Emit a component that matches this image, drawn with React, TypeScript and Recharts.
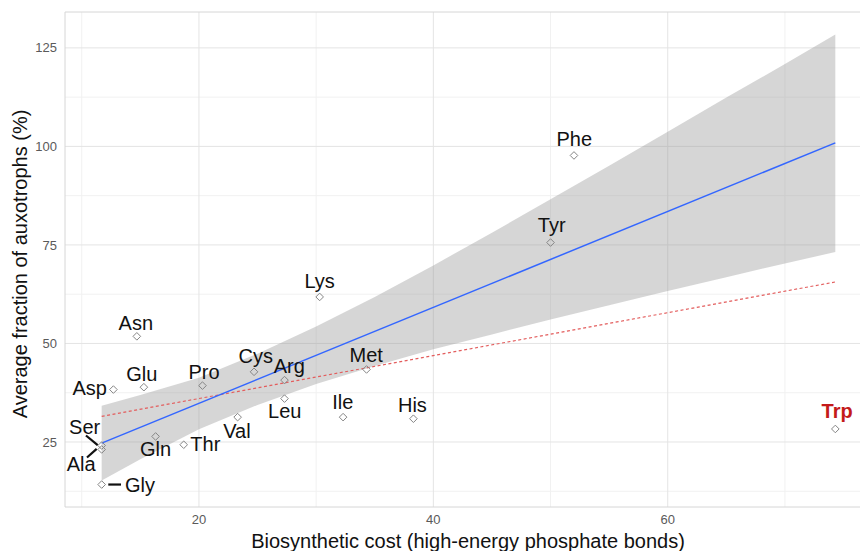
import React from "react";
import {
  ComposedChart,
  Area,
  Line,
  Scatter,
  XAxis,
  YAxis,
  CartesianGrid,
  ReferenceArea,
} from "recharts";

// amino acids: biosynthetic cost vs average fraction of auxotrophs
const aminoAcids = ["Gly", "Ala", "Ser", "Asp", "Asn", "Glu", "Gln", "Thr", "Pro", "Val", "Cys", "Arg", "Leu", "Lys", "Ile", "Met", "His", "Tyr", "Phe", "Trp"];
const cost = [11.7, 11.7, 11.7, 12.7, 14.7, 15.3, 16.3, 18.7, 20.3, 23.3, 24.7, 27.3, 27.3, 30.3, 32.3, 34.3, 38.3, 50.0, 52.0, 74.3];
const auxotrophs = [14.2, 23.1, 24.1, 38.3, 51.8, 38.9, 26.4, 24.3, 39.3, 31.3, 42.8, 40.7, 36.0, 61.8, 31.3, 43.4, 30.9, 75.6, 97.7, 28.3];

// confidence band
const bandX = [11.7, 15, 20, 25, 30, 35, 40, 45, 50, 55, 60, 65, 70, 74.3];
const bandLow = [15.2, 20.6, 28.2, 34.4, 39.7, 44.3, 48.5, 52.3, 56.1, 59.7, 63.3, 66.8, 70.3, 73.2];
const bandHigh = [34.2, 36.9, 41.3, 47.4, 54.3, 61.8, 69.8, 78.1, 86.6, 95.1, 103.7, 112.4, 120.9, 128.4];

// fitted lines (endpoints)
const fitX = [11.7, 74.3];
const fitBlue = [24.7, 100.9];
const fitRed = [31.5, 65.6];

const xMajor = [20, 40, 60];
const xMinor = [10, 30, 50, 70];
const yMajor = [25, 50, 75, 100, 125];
const yMinor = [12.5, 37.5, 62.5, 87.5, 112.5];
const xDomain = [8.57, 77.43];
const yDomain = [8.5, 134.1];

const points = aminoAcids.map((name, i) => ({ name, x: cost[i], y: auxotrophs[i] }));
const band = bandX.map((x, i) => ({ x, band: [bandLow[i], bandHigh[i]] }));
const blueRows = fitX.map((x, i) => ({ x, fit: fitBlue[i] }));
const redRows = fitX.map((x, i) => ({ x, fit: fitRed[i] }));

const FONT = "'Liberation Sans', Arial, Helvetica, sans-serif";

type LabelPos = { dx: number; dy: number; anchor: "start" | "middle" | "end"; seg?: number[] };
const labelPos: Record<string, LabelPos> = {
  Gly: { dx: 23.3, dy: 7, anchor: "start", seg: [6.6, 0, 19.3, 0] },
  Ala: { dx: -20.5, dy: 22, anchor: "middle", seg: [-14.7, 8, -5, -0.6] },
  Ser: { dx: -17, dy: -12, anchor: "middle", seg: [-15.7, -10, -4, -0.3] },
  Asp: { dx: -6.5, dy: 5, anchor: "end" },
  Asn: { dx: -1, dy: -6.7, anchor: "middle" },
  Glu: { dx: -2, dy: -6, anchor: "middle" },
  Gln: { dx: 0, dy: 20, anchor: "middle" },
  Thr: { dx: 6.6, dy: 6, anchor: "start" },
  Pro: { dx: 1.6, dy: -6.7, anchor: "middle" },
  Val: { dx: -0.7, dy: 21, anchor: "middle" },
  Cys: { dx: 1.7, dy: -9, anchor: "middle" },
  Arg: { dx: 4.7, dy: -7, anchor: "middle" },
  Leu: { dx: 0.2, dy: 19.3, anchor: "middle" },
  Lys: { dx: 0, dy: -9, anchor: "middle" },
  Ile: { dx: -0.3, dy: -8.3, anchor: "middle" },
  Met: { dx: -0.4, dy: -7.4, anchor: "middle" },
  His: { dx: -1, dy: -6.7, anchor: "middle" },
  Tyr: { dx: 1.2, dy: -11, anchor: "middle" },
  Phe: { dx: 0.3, dy: -9, anchor: "middle" },
  Trp: { dx: 1.8, dy: -11, anchor: "middle" },
};

function PointMark(props: any) {
  const { cx, cy, payload } = props;
  if (cx == null || cy == null) return null;
  const pos = labelPos[payload.name];
  const r = 3.8;
  const isTrp = payload.name === "Trp";
  return (
    <g>
      <path
        d={`M${cx},${cy - r} L${cx + r},${cy} L${cx},${cy + r} L${cx - r},${cy} Z`}
        fill="none"
        stroke="#858585"
        strokeWidth={1}
      />
      {pos.seg && (
        <line
          x1={cx + pos.seg[0]}
          y1={cy + pos.seg[1]}
          x2={cx + pos.seg[2]}
          y2={cy + pos.seg[3]}
          stroke="#111"
          strokeWidth={2.2}
        />
      )}
      <text
        x={cx + pos.dx}
        y={cy + pos.dy}
        textAnchor={pos.anchor}
        fontFamily={FONT}
        fontSize={20}
        fontWeight={isTrp ? "bold" : "normal"}
        fill={isTrp ? "#c41a1a" : "#111"}
      >
        {payload.name}
      </text>
    </g>
  );
}

export default function App() {
  return (
    <div
      style={{
        position: "absolute",
        left: 0,
        top: 0,
        width: 860,
        height: 551,
        overflow: "hidden",
        background: "#fff",
      }}
    >
      <ComposedChart width={872} height={551} data={band} margin={{ top: 12, right: 0, left: 0, bottom: 0 }}>
        <CartesianGrid verticalValues={xMinor} horizontalValues={yMinor} stroke="#f1f1f1" strokeWidth={1} />
        <CartesianGrid verticalValues={xMajor} horizontalValues={yMajor} stroke="#e4e4e4" strokeWidth={1} />
        <XAxis
          type="number"
          dataKey="x"
          domain={xDomain}
          ticks={xMajor}
          axisLine={false}
          tickLine={false}
          tickSize={0}
          tickMargin={8}
          height={44}
          allowDataOverflow
          tick={{ fill: "#5a5a5a", fontSize: 13, fontFamily: FONT }}
        />
        <YAxis
          type="number"
          domain={yDomain}
          ticks={yMajor}
          axisLine={false}
          tickLine={false}
          tickSize={0}
          tickMargin={8}
          width={65}
          allowDataOverflow
          tick={{ fill: "#5a5a5a", fontSize: 13, fontFamily: FONT }}
        />
        <Area
          type="linear"
          dataKey="band"
          stroke="none"
          fill="#999999"
          fillOpacity={0.4}
          isAnimationActive={false}
          activeDot={false}
        />
        <Line
          data={redRows}
          dataKey="fit"
          type="linear"
          stroke="#e35d5d"
          strokeWidth={1.2}
          strokeDasharray="3 2.5"
          dot={false}
          activeDot={false}
          isAnimationActive={false}
        />
        <Line
          data={blueRows}
          dataKey="fit"
          type="linear"
          stroke="#3366ff"
          strokeWidth={1.5}
          dot={false}
          activeDot={false}
          isAnimationActive={false}
        />
        <Scatter data={points} dataKey="y" shape={(p: any) => <PointMark {...p} />} isAnimationActive={false} />
        <ReferenceArea
          x1={xDomain[0]}
          x2={xDomain[1]}
          y1={yDomain[0]}
          y2={yDomain[1]}
          fill="none"
          stroke="#d6d6d6"
          strokeWidth={1}
        />
      </ComposedChart>
      <svg
        width={860}
        height={551}
        style={{ position: "absolute", left: 0, top: 0, pointerEvents: "none" }}
      >
        <text x={468} y={548} textAnchor="middle" fontFamily={FONT} fontSize={20} fill="#111">
          Biosynthetic cost (high-energy phosphate bonds)
        </text>
        <text
          transform="rotate(-90)"
          x={-264}
          y={27}
          textAnchor="middle"
          fontFamily={FONT}
          fontSize={20}
          fill="#111"
        >
          Average fraction of auxotrophs (%)
        </text>
      </svg>
    </div>
  );
}
